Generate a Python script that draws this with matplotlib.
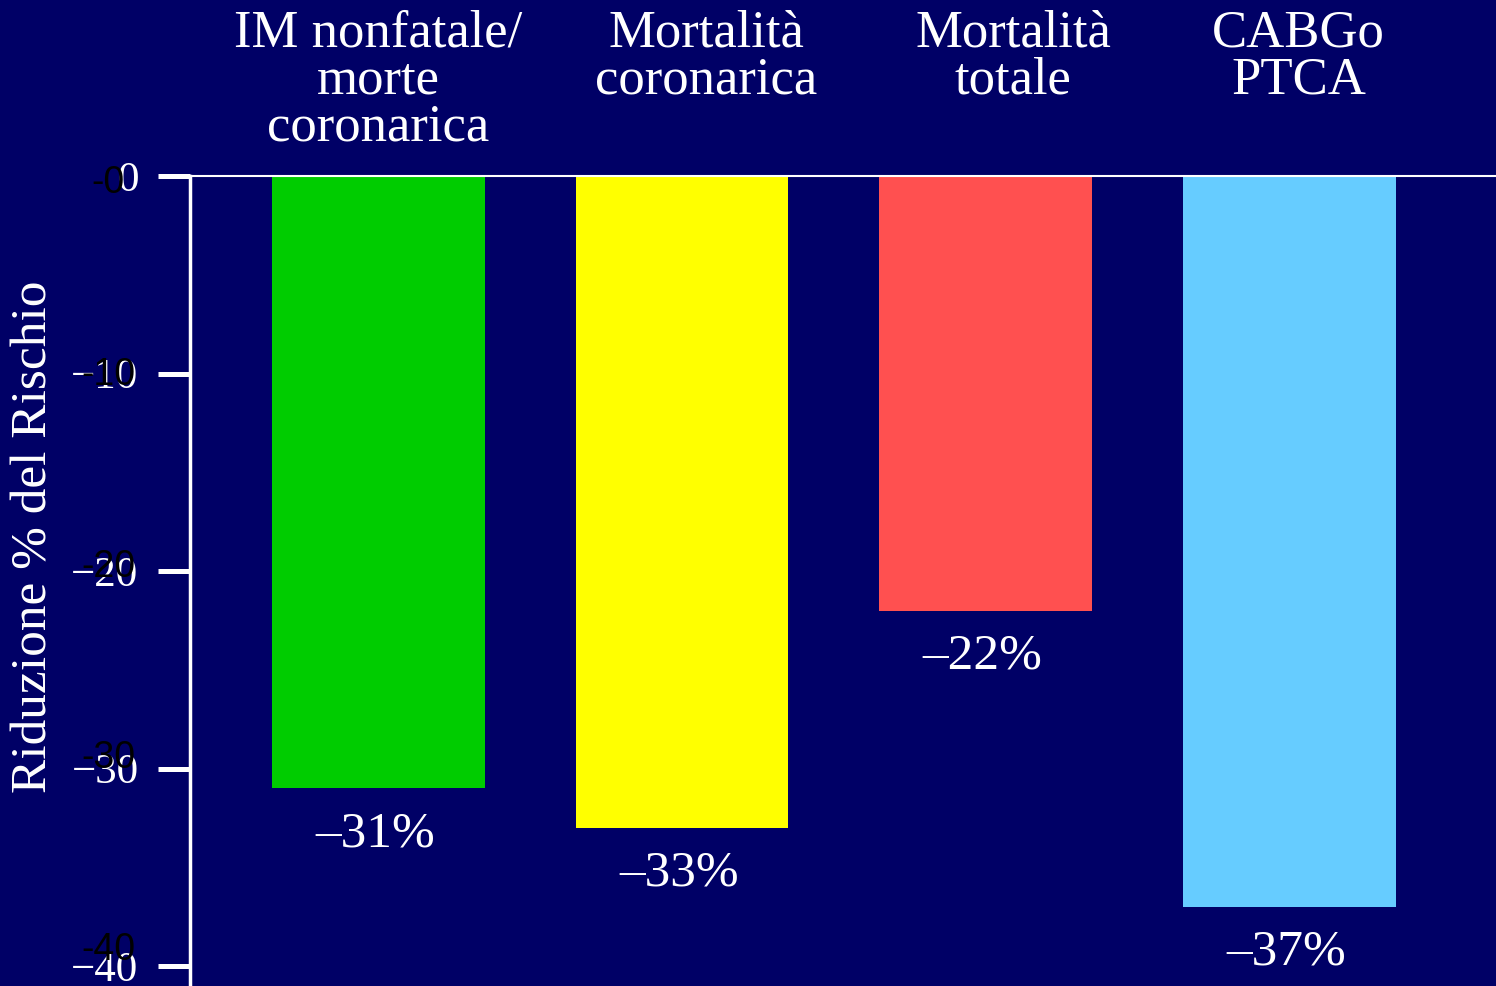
import numpy as np
import matplotlib.pyplot as plt
from matplotlib.transforms import blended_transform_factory

categories = ['IM nonfatale/\nmorte\ncoronarica', 'Mortalità\ncoronarica',
              'Mortalità\ntotale', 'CABGo\nPTCA']
reduction = [-31, -33, -22, -37]
bar_colors = ['#00CC00', '#FFFF00', '#FF5050', '#66CCFF']
yticks = [0, -10, -20, -30, -40]

BG = '#000066'
SERIF = 'Liberation Serif'

fig = plt.figure(figsize=(14.96, 9.86), dpi=100, facecolor=BG)
ax = fig.add_axes([190 / 1496, 0, 1 - 190 / 1496, 1 - 176 / 986])
ax.set_facecolor(BG)

x = np.arange(len(categories))
ax.bar(x, reduction, width=0.70, color=bar_colors)
ax.set_xlim(-0.62, 3.68)
ax.set_ylim(-41, 0)

# value labels under each bar
for xi, v in zip(x, reduction):
    ax.text(xi - 0.01, v - 2.3, '\u2013%d%%' % abs(v), ha='center', va='center',
            color='white', fontsize=37, family=SERIF)

# category headings above the plot
trans = blended_transform_factory(ax.transData, fig.transFigure)
label_dx = [0.0, 0.08, 0.09, 0.03]
for xi, lab, dx in zip(x, categories, label_dx):
    ax.text(xi + dx, 0.99, lab, transform=trans, ha='center', va='top',
            color='white', fontsize=38, family=SERIF, linespacing=0.97)

# axis styling
for side in ['right', 'bottom']:
    ax.spines[side].set_visible(False)
ax.spines['left'].set_color('white')
ax.spines['left'].set_linewidth(2.5)
ax.spines['top'].set_color('white')
ax.spines['top'].set_linewidth(1.5)
ax.set_xticks([])
ax.set_yticks(yticks)
ax.set_yticklabels(['0'] + ['\u2212%d' % abs(t) for t in yticks[1:]])
ax.tick_params(axis='y', direction='out', length=23, width=3.6, color='white',
               labelcolor='white', labelsize=31, pad=14)
for t in ax.get_yticklabels():
    t.set_family(SERIF)

# second set of plain labels drawn on top
ytrans = blended_transform_factory(fig.transFigure, ax.transData)
for t in yticks:
    ax.text(108 / 1496, -0.35 + t * 0.971, '-%d' % abs(t), transform=ytrans,
            ha='center', va='center', color='black', fontsize=27,
            family='Liberation Sans', clip_on=False)

ax.set_ylabel('Riduzione % del Rischio', color='white', fontsize=37,
              family=SERIF)
ax.yaxis.set_label_coords(58 / 1496, 1 - 537 / 986, transform=fig.transFigure)

fig.savefig('out.png', dpi=100, facecolor=BG)
